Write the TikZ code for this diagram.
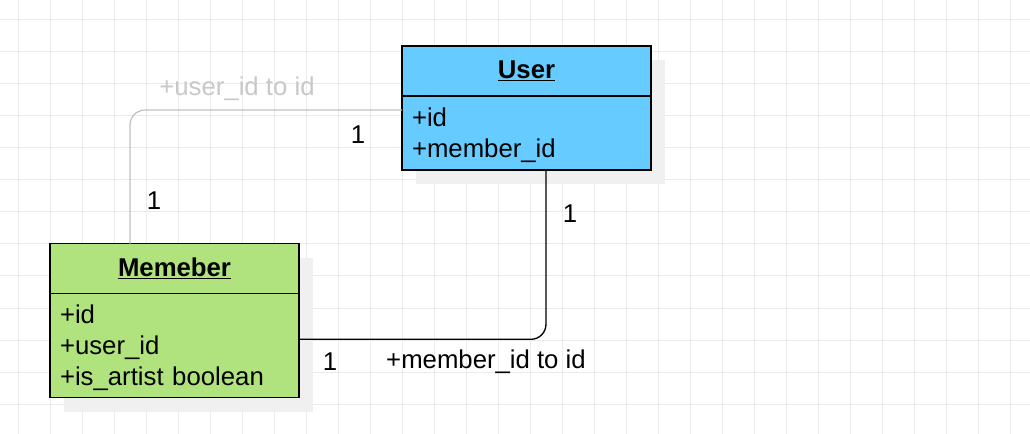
\documentclass[tikz,border=0pt]{standalone}
\usepackage{fontspec}
\setmainfont{Liberation Sans}
\usetikzlibrary{positioning,backgrounds}
\definecolor{userblue}{RGB}{102,204,255}
\definecolor{memegreen}{RGB}{176,227,125}
\definecolor{gridgrey}{RGB}{235,235,235}
\definecolor{shadowgrey}{RGB}{240,240,240}
\definecolor{linkgrey}{RGB}{192,192,192}
\definecolor{labelgrey}{RGB}{200,200,200}
\newcommand\umlfont{\fontsize{19.3pt}{23.1pt}\selectfont}
\tikzset{
  classhead/.style={draw=black, line width=1.1pt, outer sep=0pt, inner sep=0pt,
    minimum width=186.75pt, minimum height=37.5pt, font=\umlfont\bfseries},
  classbody/.style={draw=black, line width=1.1pt, outer sep=0pt, inner xsep=7.5pt, inner ysep=0pt,
    text width=171.75pt, align=left, font=\umlfont},
  lbl/.style={inner sep=0pt, yshift=-1.5pt, font=\umlfont},
  blacklink/.style={draw=black, line width=1pt, rounded corners=11.25pt},
  greylink/.style={draw=linkgrey, line width=0.9pt, rounded corners=11.25pt}
}
\begin{document}
\begin{tikzpicture}[x=0.75pt,y=-0.75pt]
\useasboundingbox (0,0) rectangle (1030,434);
%Class: User
\node[classhead, fill=userblue] (user) at (526.5,71) {\underline{User}};
\node[classbody, fill=userblue, minimum height=55.5pt, below=0pt of user] (userbody) {\rule{0pt}{17pt}+id\\+member\_id};
%Class: Memeber
\node[classhead, fill=memegreen] (memeber) at (174.5,268.7) {\underline{Memeber}};
\node[classbody, fill=memegreen, minimum height=78pt, below=0pt of memeber] (memeberbody) {\rule{0pt}{17pt}+id\\+user\_id\\+is\_artist boolean};
%Grid and shadows
\begin{scope}[on background layer]
\foreach \i in {0,...,31} {\draw[gridgrey, line width=0.75pt] (18.3+32*\i,0) -- (18.3+32*\i,434);}
\foreach \j in {0,...,12} {\draw[gridgrey, line width=0.75pt] (0,20+32*\j) -- (1030,20+32*\j);}
\fill[shadowgrey] ([shift={(10.5pt,-10.5pt)}]user.north west) rectangle ([shift={(10.5pt,-10.5pt)}]userbody.south east);
\fill[shadowgrey] ([shift={(10.5pt,-10.5pt)}]memeber.north west) rectangle ([shift={(10.5pt,-10.5pt)}]memeberbody.south east);
\end{scope}
%Links
\draw[greylink] ([yshift=-10.5pt]userbody.north west) -| ([xshift=60pt]memeber.north west);
\draw[blacklink] ([xshift=14.6pt]userbody.south) |- ([yshift=-34.2pt]memeberbody.north east);
% Text Node
\node[lbl, text=labelgrey] (userlink) at (237,87) {+user\_id to id};
% Text Node
\node[lbl] (userlinkone) at (358,133) {1};
% Text Node
\node[lbl] (userlinktwo) at (154,199) {1};
% Text Node
\node[lbl] (memberlink) at (486,360) {+member\_id to id};
% Text Node
\node[lbl] (memberlinkone) at (570,212) {1};
% Text Node
\node[lbl] (memberlinktwo) at (330,360) {1};
\end{tikzpicture}
\end{document}
